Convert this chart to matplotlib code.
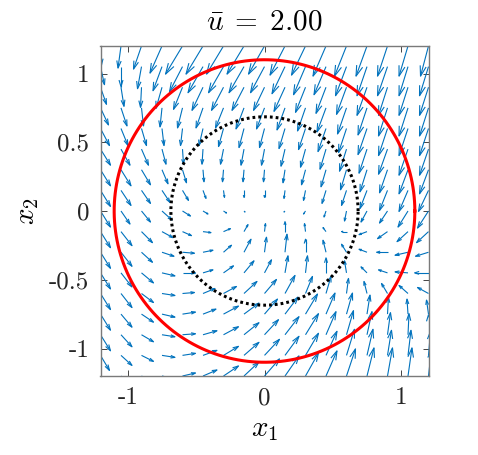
import numpy as np
import matplotlib
matplotlib.use("Agg")
import matplotlib.pyplot as plt
from matplotlib.collections import LineCollection

plt.rcParams["mathtext.fontset"] = "cm"
plt.rcParams["axes.unicode_minus"] = False

# ---------------- data ----------------
x1_grid = [-1.2, -1.05, -0.9, -0.75, -0.6, -0.45, -0.3, -0.15, 0.0,
           0.15, 0.3, 0.45, 0.6, 0.75, 0.9, 1.05, 1.2]
x2_grid = [1.2, 1.05, 0.9, 0.75, 0.6, 0.45, 0.3, 0.15, 0.0,
           -0.15, -0.3, -0.45, -0.6, -0.75, -0.9, -1.05, -1.2]   # rows, top to bottom

# horizontal arrow components (rows follow x2_grid)
U_rows = [
    [1, -3, -8, -12, -17, -17, -17, -17, -16, -15, -14, -13, -12, -11, -10, -9, -8],
    [4, 0, -4, -9, -13, -15, -15, -15, -14, -13, -12, -12, -11, -10, -10, -9, -9],
    [6, 3, -1, -6, -9, -11, -12, -12, -11, -11, -10, -10, -10, -10, -9, -9, -9],
    [8, 6, 2, -2, -5, -7, -8, -8, -8, -8, -8, -9, -9, -9, -9, -9, -9],
    [9, 7, 5, 2, -2, -4, -5, -5, -5, -6, -7, -8, -8, -9, -9, -9, -9],
    [10, 9, 7, 4, 1, -1, -3, -3, -3, -4, -5, -6, -7, -8, -9, -9, -9],
    [10, 10, 9, 6, 4, 1, -1, -1, -1, -2, -4, -5, -6, -7, -8, -9, -9],
    [10, 10, 9, 8, 6, 3, 1, 0, 0, -1, -2, -4, -5, -7, -8, -9, -10],
    [10, 9, 9, 10, 8, 5, 3, 1, 0, -1, -2, -2, -2, -6, -8, -10, -11],
    [10, 11, 11, 11, 9, 8, 7, 4, 1, 0, -1, -3, -5, -8, -10, -11, -12],
    [10, 11, 11, 12, 12, 10, 8, 7, 2, 2, 0, -3, -5, -8, -11, -13, -13],
    [10, 11, 12, 13, 13, 10, 10, 10, 7, 3, 2, 0, -2, -6, -9, -13, -14],
    [10, 11, 12, 13, 12, 12, 13, 13, 12, 10, 7, 5, 2, -3, -6, -9, -11],
    [10, 11, 12, 13, 13, 13, 15, 15, 13, 13, 12, 9, 6, 3, 1, -1, -2],
    [10, 11, 12, 13, 13, 14, 15, 15, 14, 14, 13, 10, 7, 5, 3, 1, 0],
    [9, 11, 12, 13, 13, 14, 15, 15, 15, 14, 13, 11, 8, 6, 4, 3, 2],
    [9, 11, 12, 13, 13, 14, 15, 15, 15, 14, 13, 11, 9, 7, 5, 4, 3],
]

# vertical arrow components (rows follow x2_grid)
V_rows = [
    [-19, -22, -23, -27, -28, -28, -28, -28, -28, -29, -29, -30, -30, -30, -30, -30, -30],
    [-18, -20, -22, -24, -25, -26, -26, -26, -26, -27, -28, -28, -29, -29, -29, -29, -29],
    [-17, -19, -20, -21, -22, -23, -23, -23, -23, -24, -25, -26, -27, -28, -28, -28, -28],
    [-17, -18, -18, -19, -20, -20, -20, -21, -21, -22, -23, -24, -26, -27, -28, -28, -28],
    [-17, -17, -17, -17, -17, -17, -18, -19, -19, -20, -21, -23, -24, -26, -27, -27, -27],
    [-16, -16, -16, -15, -15, -15, -15, -16, -16, -17, -18, -20, -22, -24, -25, -26, -26],
    [-16, -16, -15, -14, -13, -12, -12, -12, -12, -13, -15, -17, -20, -22, -23, -24, -24],
    [-16, -15, -13, -12, -10, -8, -7, -7, -7, -8, -10, -13, -15, -18, -20, -21, -21],
    [-16, -13, -11, -9, -5, -3, -2, -1, 0, -1, -3, -6, -10, -11, -12, -16, -17],
    [-16, -14, -11, -6, -4, -1, 3, 7, 8, 10, 8, 4, 0, -3, -7, -10, -11],
    [-16, -14, -10, -4, -1, 2, 7, 13, 15, 18, 13, 12, 8, 3, 0, -3, -4],
    [-16, -14, -10, -3, 0, 3, 7, 12, 13, 17, 17, 15, 12, 6, 3, 1, 0],
    [-16, -14, -9, -2, 1, 5, 7, 12, 14, 18, 17, 17, 15, 12, 10, 8, 6],
    [-16, -13, -8, -3, 2, 5, 8, 11, 15, 17, 20, 21, 21, 19, 17, 15, 14],
    [-16, -12, -7, -2, 1, 4, 8, 12, 15, 18, 21, 23, 24, 23, 22, 21, 20],
    [-15, -10, -6, -2, 2, 5, 9, 13, 16, 19, 22, 24, 26, 26, 25, 25, 24],
    [-15, -11, -7, -3, 3, 6, 10, 14, 17, 20, 23, 25, 27, 28, 28, 28, 27],
]

outer_radius = 1.1      # red circle
inner_radius = 0.685    # dotted black circle
title_text = r"$\bar{u}\;=\;2.00$"
xtick_vals = [-1, 0, 1]
xtick_labels = ["-1", "0", "1"]
ytick_vals = [-1, -0.5, 0, 0.5, 1]
ytick_labels = ["-1", "-0.5", "0", "0.5", "1"]

# ---------------- figure ----------------
W, H = 478, 455
fig = plt.figure(figsize=(W / 100, H / 100), dpi=100)
ax = fig.add_axes([100.5 / W, 79 / H, 328 / W, 330 / H])

X, Y = np.meshgrid(np.array(x1_grid), np.array(x2_grid))
units_per_value = 1 / 137.0           # arrow length scale
u = np.array(U_rows, float) * units_per_value
v = np.array(V_rows, float) * units_per_value
X, Y, u, v = X.ravel(), Y.ravel(), u.ravel(), v.ravel()

alpha, beta = 0.33, 0.30
xe, ye = X + u, Y + v
h1x = xe - alpha * (u + beta * v)
h1y = ye - alpha * (v - beta * u)
h2x = xe - alpha * (u - beta * v)
h2y = ye - alpha * (v + beta * u)
segs = []
for k in range(len(X)):
    segs.append([(X[k], Y[k]), (xe[k], ye[k])])
    segs.append([(h1x[k], h1y[k]), (xe[k], ye[k]), (h2x[k], h2y[k])])
qc = LineCollection(segs, colors="#0072BD", linewidths=0.8, zorder=2)
ax.add_collection(qc)

theta = np.linspace(0, 2 * np.pi, 400)
ax.plot(outer_radius * np.cos(theta), outer_radius * np.sin(theta),
        color="red", lw=2.2, zorder=3)
ax.plot(inner_radius * np.cos(theta), inner_radius * np.sin(theta),
        color="black", lw=2.2, linestyle=(0, (0.9, 1.0)), zorder=3)

ax.set_xlim(-1.2, 1.2)
ax.set_ylim(-1.2, 1.2)
ax.set_aspect("auto")

tickfont = dict(family="cmr10", size=18)
ax.set_xticks(xtick_vals)
ax.set_xticklabels(xtick_labels, fontdict=tickfont)
ax.set_yticks(ytick_vals)
ax.set_yticklabels(ytick_labels, fontdict=tickfont)
ax.tick_params(direction="in", length=4, width=0.6, color="#262626",
               top=True, right=True, pad=8, labelcolor="#262626")
for s in ax.spines.values():
    s.set_color("#7a7a7a")
    s.set_linewidth(1.0)

ax.set_title(title_text, fontsize=21, pad=12)
ax.set_xlabel(r"$x_1$", fontsize=21, labelpad=4)
ax.set_ylabel(r"$x_2$", fontsize=21, labelpad=6)

fig.savefig("out.png", dpi=100)
